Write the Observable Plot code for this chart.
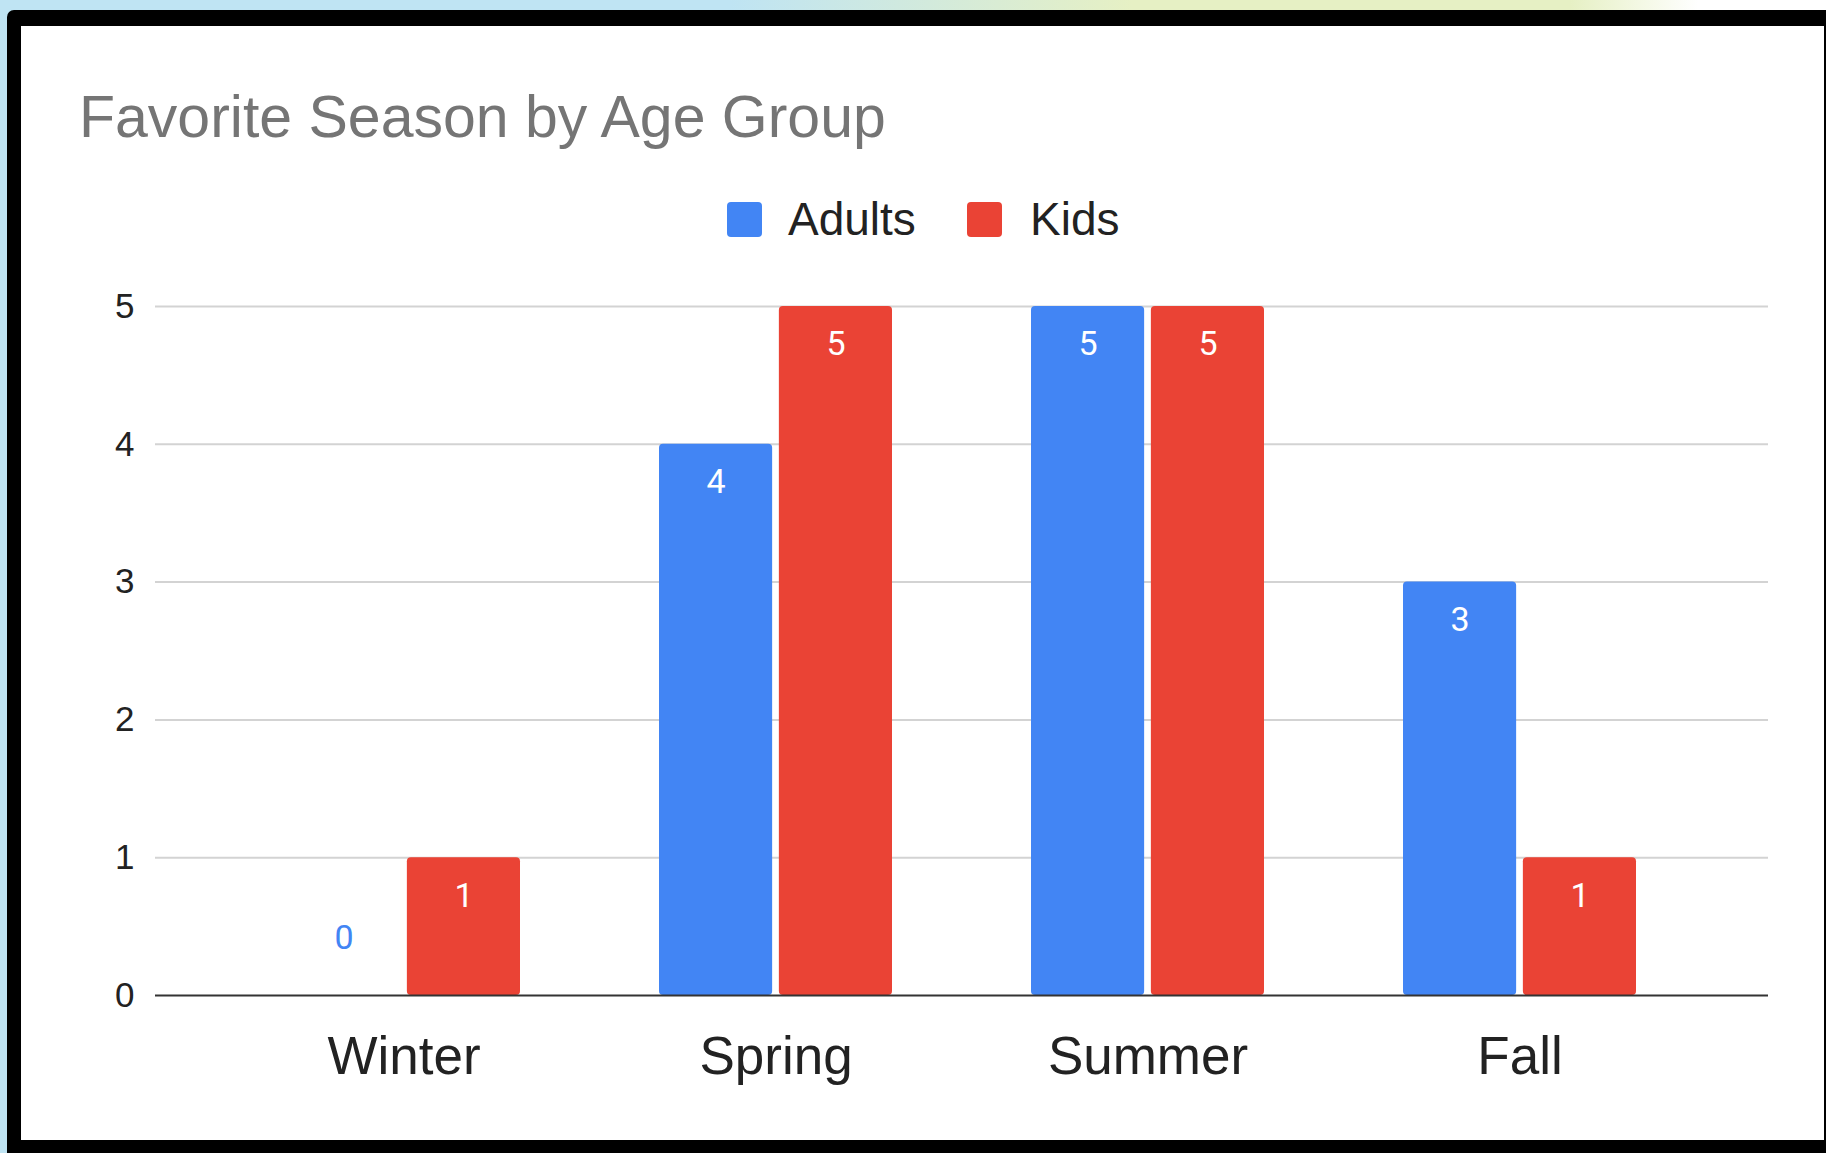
<!DOCTYPE html>
<html>
<head>
<meta charset="utf-8">
<script src="https://cdn.jsdelivr.net/npm/d3@7"></script>
<script src="https://cdn.jsdelivr.net/npm/@observablehq/plot@0.6"></script>
<style>
html, body { margin: 0; padding: 0; width: 1826px; height: 1153px; overflow: hidden; }
body {
  position: relative;
  background: linear-gradient(90deg, #bfe4f3 0%, #bfe4f3 40%, #e6f0c4 62%, #e6f0c4 86%, #ffffff 93%);
  font-family: "Liberation Sans", Arial, Helvetica, sans-serif;
}
#frame { position: absolute; left: 7px; top: 10px; right: 0; bottom: 0; background: #000; border-top-left-radius: 7px; }
#inner { position: absolute; left: 21px; top: 26px; width: 1803px; height: 1114px; background: #fff; }
#title { position: absolute; left: 79px; top: 88px; font-size: 59px; line-height: 59px; color: #757575; white-space: nowrap; }
.leg-sw { position: absolute; top: 202px; width: 35px; height: 35px; border-radius: 4px; }
.leg-tx { position: absolute; top: 196px; font-size: 46px; line-height: 46px; color: #222; white-space: nowrap; }
#chart { position: absolute; left: 0; top: 250px; }
</style>
</head>
<body>
<div id="frame"></div>
<div id="inner"></div>
<div id="title">Favorite Season by Age Group</div>
<div id="legend"></div>
<div id="chart"></div>
<script>
// ---- data ----
const title = "Favorite Season by Age Group";
const seasons = ["Winter", "Spring", "Summer", "Fall"];
const groups = ["Adults", "Kids"];
const adults = [0, 4, 5, 3];
const kids = [1, 5, 5, 1];
const colors = ["#4285f4", "#ea4335"];
const yTicks = [0, 1, 2, 3, 4, 5];

const series = { Adults: adults, Kids: kids };
const rows = [];
groups.forEach(g => seasons.forEach((s, i) => rows.push({ season: s, group: g, value: series[g][i] })));

// ---- legend ----
const legend = document.getElementById("legend");
const legendPos = [{ sw: 727, tx: 788 }, { sw: 967, tx: 1030 }];
groups.forEach((g, i) => {
  const sw = document.createElement("div");
  sw.className = "leg-sw";
  sw.style.left = legendPos[i].sw + "px";
  sw.style.background = colors[i];
  const tx = document.createElement("div");
  tx.className = "leg-tx";
  tx.style.left = legendPos[i].tx + "px";
  tx.textContent = g;
  legend.appendChild(sw);
  legend.appendChild(tx);
});

// ---- chart ----
const W = 1826, H = 880;
const mL = 155, mR = 58, mT = 56, mB = 135;
const padIn = 0.373, padOut = 0.35, gap = 6;
const step = (W - mL - mR) / (seasons.length - padIn + 2 * padOut);
const bw = step * (1 - padIn);
const barW = (bw - gap) / 2;
const inset = bw - barW;
const off = (bw - barW) / 2;
const offs = { Adults: -off, Kids: off };
const labelFont = "Roboto, 'Liberation Sans', Arial, sans-serif";

const marks = [
  Plot.ruleY(yTicks.filter(t => t > 0), { stroke: "#d3d3d3", strokeWidth: 2 })
];
groups.forEach((g, i) => {
  const data = rows.filter(d => d.group === g);
  marks.push(Plot.barY(data, {
    x: "season", y: "value", fill: "group",
    insetLeft: i === 0 ? 0 : inset, insetRight: i === 0 ? inset : 0, rx: 4
  }));
});
marks.push(Plot.ruleY([0], { stroke: "#333", strokeWidth: 2 }));
groups.forEach((g, i) => {
  const data = rows.filter(d => d.group === g);
  marks.push(Plot.text(data.filter(d => d.value > 0), {
    x: "season", y: "value", text: d => String(d.value),
    dx: offs[g], dy: 38, fill: "white", fontSize: 34, fontFamily: labelFont
  }));
  marks.push(Plot.text(data.filter(d => d.value === 0), {
    x: "season", y: "value", text: d => String(d.value),
    dx: offs[g], dy: -57, fill: colors[i], fontSize: 34, fontFamily: labelFont
  }));
});
marks.push(Plot.axisY({ ticks: yTicks, tickSize: 0, tickPadding: 21, fontSize: 35, label: null, tickFormat: d => String(d) }));
marks.push(Plot.axisX({ tickSize: 0, tickPadding: 41, fontSize: 53, label: null }));

const chart = Plot.plot({
  width: W, height: H,
  marginLeft: mL, marginRight: mR, marginTop: mT, marginBottom: mB,
  style: { background: "transparent", color: "#222", fontFamily: "'Liberation Sans', Arial, Helvetica, sans-serif", overflow: "visible" },
  x: { type: "band", domain: seasons, paddingInner: padIn, paddingOuter: padOut, label: null },
  y: { domain: [0, 5], label: null },
  color: { domain: groups, range: colors },
  marks
});
document.getElementById("chart").appendChild(chart);
</script>
</body>
</html>
